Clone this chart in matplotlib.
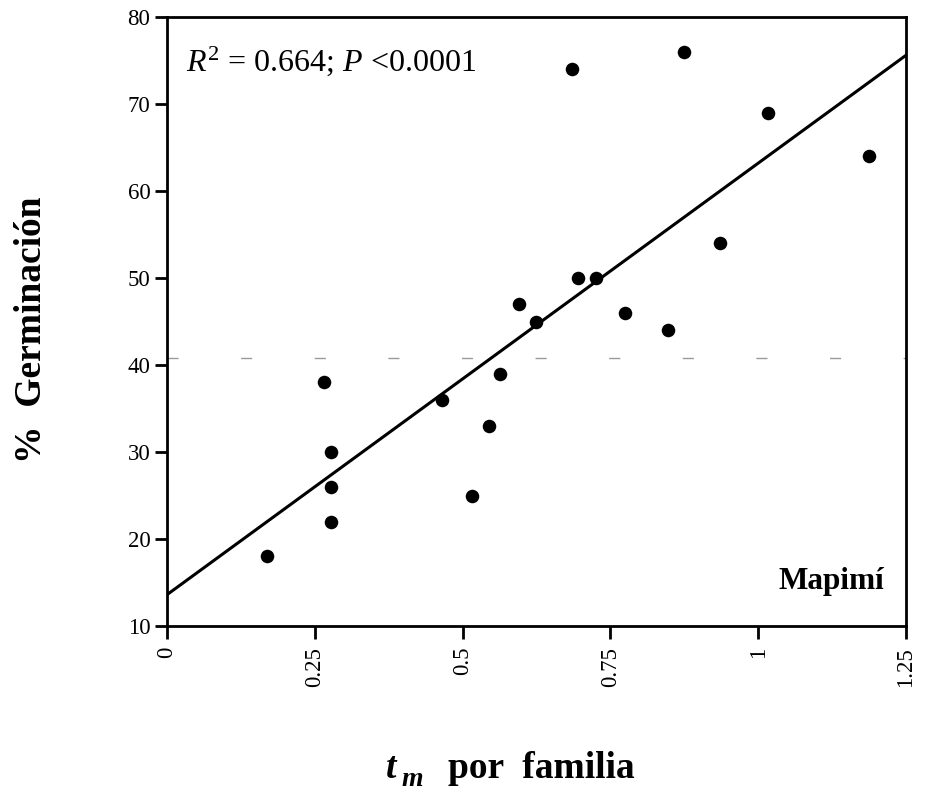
import matplotlib
matplotlib.use("Agg")
import matplotlib.pyplot as plt
import numpy as np

plt.rcParams['font.family'] = ['Liberation Serif', 'DejaVu Serif']
plt.rcParams['mathtext.fontset'] = 'custom'
plt.rcParams['mathtext.rm'] = 'Liberation Serif'
plt.rcParams['mathtext.it'] = 'Liberation Serif:italic'
plt.rcParams['mathtext.bf'] = 'Liberation Serif:bold'

# Data
tm = [0.169, 0.266, 0.277, 0.277, 0.277, 0.466, 0.516, 0.544, 0.564, 0.595,
      0.624, 0.695, 0.726, 0.775, 0.847, 0.875, 0.935, 1.016, 1.1875, 0.685]
germ = [18, 38, 30, 26, 22, 36, 25, 33, 39, 47,
        45, 50, 50, 46, 44, 76, 54, 69, 64, 74]
fit_intercept = 13.6
fit_slope = 49.6
x_ticks = [0, 0.25, 0.5, 0.75, 1, 1.25]
x_ticklabels = ['0', '0.25', '0.5', '0.75', '1', '1.25']
y_ticks = [10, 20, 30, 40, 50, 60, 70, 80]

fig = plt.figure(figsize=(9.26, 8.01), dpi=100)
ax = fig.add_axes([167/926, 1-626/801, (906-167)/926, (626-17)/801])

ax.set_xlim(0, 1.25)
ax.set_ylim(10, 80)

# faint scan artifact line
ax.axhline(40.8, color='#9a9a9a', lw=1.0, dashes=(8, 45), zorder=1)

xl = np.array([0, 1.25])
ax.plot(xl, fit_intercept + fit_slope * xl, color='black', lw=2.2, zorder=2)
ax.scatter(tm, germ, s=95, color='black', zorder=3, linewidths=0)

ax.set_xticks(x_ticks)
ax.set_xticklabels(x_ticklabels, rotation=90)
ax.set_yticks(y_ticks)
ax.tick_params(axis='both', direction='out', length=9, width=2, labelsize=16.5, color='black')
ax.tick_params(axis='x', pad=6)
ax.tick_params(axis='y', pad=3)
for s in ax.spines.values():
    s.set_linewidth(2)

ax.text(0.026, 0.955, r'$R^2$ = 0.664; $P$ <0.0001', transform=ax.transAxes,
        fontsize=23, va='top', ha='left')
ax.text(0.97, 0.05, 'Mapimí', transform=ax.transAxes, fontsize=22.5,
        fontweight='bold', ha='right', va='bottom')

# x axis label composed of pieces
fig.text(386/926, 1-778/801, 't', fontsize=27, fontweight='bold', style='italic',
         ha='left', va='baseline')
fig.text(401/926, 1-786/801, 'm', fontsize=20, fontweight='bold', style='italic',
         ha='left', va='baseline')
fig.text(448/926, 1-778/801, 'por  familia', fontsize=27, fontweight='bold',
         ha='left', va='baseline')
fig.text(32/926, 1-330/801, '%  Germinación', fontsize=27, fontweight='bold',
         rotation=90, ha='center', va='center')

fig.savefig('out.png', dpi=100)
